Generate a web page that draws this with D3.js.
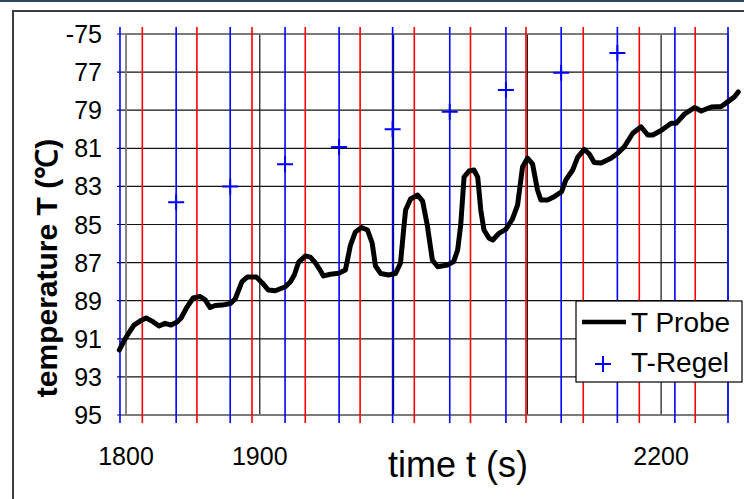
<!DOCTYPE html>
<html>
<head>
<meta charset="utf-8">
<script src="https://cdn.jsdelivr.net/npm/d3@7"></script>
<style>
  html, body { margin: 0; padding: 0; background: #fff; }
  svg { display: block; }
  text { font-family: "Liberation Sans", Arial, sans-serif; fill: #000; }
</style>
</head>
<body>
<div id="chart"></div>
<script>
// T Probe (time s, temperature)
const probeTime = [1795.0, 1799.3, 1803.0, 1806.0, 1810.5, 1815.0, 1820.2, 1824.7, 1829.2, 1833.7,
  1838.2, 1841.2, 1845.7, 1850.2, 1855.4, 1859.2, 1862.9, 1866.7, 1871.9, 1877.9,
  1881.6, 1886.7, 1890.6, 1897.4, 1901.9, 1906.4, 1911.6, 1919.1, 1922.8, 1925.8,
  1929.1, 1934.1, 1937.8, 1941.6, 1944.6, 1947.6, 1952.8, 1959.0, 1964.0, 1967.8,
  1971.5, 1976.0, 1980.5, 1984.0, 1986.5, 1990.3, 1996.3, 2001.5, 2005.2, 2007.5,
  2009.0, 2012.7, 2018.0, 2021.7, 2025.2, 2029.0, 2033.0, 2040.2, 2044.9, 2047.9,
  2050.2, 2052.7, 2056.4, 2060.1, 2062.9, 2065.2, 2067.6, 2071.4, 2074.2, 2078.7,
  2083.9, 2088.9, 2092.7, 2096.4, 2100.1, 2103.9, 2107.6, 2110.1, 2115.1, 2120.1,
  2125.6, 2128.8, 2133.9, 2137.6, 2142.5, 2146.3, 2150.0, 2155.1, 2162.5, 2167.6,
  2172.5, 2178.8, 2185.0, 2190.0, 2193.8, 2200.0, 2207.5, 2211.2, 2217.5, 2225.0,
  2230.0, 2237.5, 2245.0, 2250.0, 2254.9, 2257.7];
const probeTemp = [91.59, 91.01, 90.59, 90.28, 90.07, 89.91, 90.10, 90.33, 90.19, 90.28,
  90.12, 89.91, 89.32, 88.86, 88.78, 88.96, 89.36, 89.25, 89.23, 89.15,
  88.91, 88.00, 87.76, 87.76, 88.07, 88.44, 88.48, 88.27, 88.02, 87.65,
  86.97, 86.65, 86.71, 87.02, 87.34, 87.70, 87.61, 87.56, 87.39, 86.08,
  85.39, 85.16, 85.29, 85.97, 87.18, 87.57, 87.65, 87.57, 87.02, 85.29,
  84.24, 83.66, 83.45, 83.77, 85.03, 86.86, 87.22, 87.13, 86.95, 86.34,
  85.03, 82.51, 82.19, 82.14, 82.51, 84.24, 85.29, 85.72, 85.81, 85.47,
  85.26, 84.71, 83.98, 81.98, 81.52, 81.82, 83.19, 83.71, 83.71, 83.54,
  83.28, 82.66, 82.14, 81.48, 81.06, 81.30, 81.75, 81.77, 81.52, 81.26,
  80.92, 80.21, 79.87, 80.30, 80.30, 80.07, 79.69, 79.69, 79.20, 78.86,
  79.04, 78.83, 78.81, 78.55, 78.29, 78.04];

// T-Regel markers
const regelTime = [1837.5, 1877.9, 1918.9, 1959.3, 1999.3, 2042.0, 2084.0, 2125.3, 2167.3];
const regelTemp = [83.83, 83.0, 81.84, 80.93, 80.0, 79.08, 77.94, 77.03, 76.0];

// vertical marker lines
const blueTimes = [1795.5, 1837.5, 1877.9, 1918.9, 1959.3, 1999.3, 2042, 2084, 2125.3, 2167.3, 2210.3, 2250];
const redTimes = [1812.2, 1853, 1894.2, 1934, 1975, 2015.5, 2057.5, 2099, 2141.8, 2183.7, 2225.5];

// axes
const yTicks = [75, 77, 79, 81, 83, 85, 87, 89, 91, 93, 95];
const yTickLabels = ["-75", "77", "79", "81", "83", "85", "87", "89", "91", "93", "95"];
const xGrid = [1900, 2000, 2100, 2200];
const xTicks = [1800, 1900, 2200];
const xTickLabels = ["1800", "1900", "2200"];

const W = 744, H = 499;
const plot = { left: 126, top: 34, right: 728, bottom: 415 };

const svg = d3.select("#chart").append("svg")
  .attr("width", W).attr("height", H);

svg.append("rect").attr("width", W).attr("height", H).attr("fill", "#fff");
// top strip + outer chart frame
svg.append("rect").attr("x", 0).attr("y", 0).attr("width", W).attr("height", 2).attr("fill", "#2b4562");
svg.append("rect").attr("x", 13).attr("y", 11).attr("width", 900).attr("height", 700)
  .attr("fill", "none").attr("stroke", "#3c3c3c").attr("stroke-width", 2);

const x = d3.scaleLinear().domain([1800, 2250]).range([plot.left, plot.right]);
const y = d3.scaleLinear().domain([75, 95]).range([plot.top, plot.bottom]);

// horizontal grid + y ticks
svg.append("g").selectAll("line").data(yTicks).join("line")
  .attr("x1", plot.left - 9).attr("x2", plot.right)
  .attr("y1", d => y(d)).attr("y2", d => y(d))
  .attr("stroke", "#111").attr("stroke-width", 1.2);

// vertical grid
svg.append("g").selectAll("line").data(xGrid).join("line")
  .attr("x1", d => x(d)).attr("x2", d => x(d))
  .attr("y1", plot.top).attr("y2", plot.bottom)
  .attr("stroke", "#111").attr("stroke-width", 1.2);

// plot border
svg.append("rect")
  .attr("x", plot.left).attr("y", plot.top)
  .attr("width", plot.right - plot.left).attr("height", plot.bottom - plot.top)
  .attr("fill", "none").attr("stroke", "#7a7a7a").attr("stroke-width", 1.8);

// blue / red vertical lines
svg.append("g").selectAll("line").data(blueTimes).join("line")
  .attr("x1", d => x(d)).attr("x2", d => x(d))
  .attr("y1", plot.top - 7).attr("y2", plot.bottom + 8)
  .attr("stroke", "#0000ff").attr("stroke-width", 1.6);
svg.append("g").selectAll("line").data(redTimes).join("line")
  .attr("x1", d => x(d)).attr("x2", d => x(d))
  .attr("y1", plot.top - 7).attr("y2", plot.bottom + 8)
  .attr("stroke", "#ff0000").attr("stroke-width", 1.6);

// T-Regel "+" markers
const mk = svg.append("g");
regelTime.forEach((t, i) => {
  const px = x(t), py = y(regelTemp[i]);
  mk.append("path").attr("d", `M${px - 8},${py}H${px + 8}M${px},${py - 8}V${py + 8}`)
    .attr("stroke", "#0000ff").attr("stroke-width", 2).attr("fill", "none");
});

// T Probe curve
const probe = probeTime.map((t, i) => [t, probeTemp[i]]);
svg.append("path").datum(probe)
  .attr("d", d3.line().x(d => x(d[0])).y(d => y(d[1])))
  .attr("fill", "none").attr("stroke", "#000").attr("stroke-width", 5)
  .attr("stroke-linejoin", "round").attr("stroke-linecap", "round");

// y tick labels
svg.append("g").selectAll("text").data(yTicks).join("text")
  .attr("x", 102).attr("y", d => y(d) + 9)
  .attr("text-anchor", "end").style("font-size", "25px")
  .text((d, i) => yTickLabels[i]);

// x tick labels
svg.append("g").selectAll("text").data(xTicks).join("text")
  .attr("x", d => x(d)).attr("y", 465)
  .attr("text-anchor", "middle").style("font-size", "25px")
  .text((d, i) => xTickLabels[i]);

// axis titles
svg.append("text")
  .attr("transform", "translate(57,268) rotate(-90)")
  .attr("text-anchor", "middle")
  .style("font-size", "30px").style("font-weight", "700")
  .text("temperature T (℃)");

svg.append("text")
  .attr("x", 458).attr("y", 477)
  .attr("text-anchor", "middle").style("font-size", "36px")
  .text("time t (s)");

// legend
const lg = svg.append("g");
lg.append("rect").attr("x", 576).attr("y", 301).attr("width", 166).attr("height", 81)
  .attr("fill", "#fff").attr("stroke", "#000").attr("stroke-width", 1.2);
lg.append("line").attr("x1", 582).attr("x2", 626).attr("y1", 322).attr("y2", 322)
  .attr("stroke", "#000").attr("stroke-width", 4.5);
lg.append("text").attr("x", 631).attr("y", 332).style("font-size", "28px").text("T Probe");
lg.append("path").attr("d", "M595,364H611M603,356V372")
  .attr("stroke", "#0000ff").attr("stroke-width", 2);
lg.append("text").attr("x", 631).attr("y", 372).style("font-size", "28px").text("T-Regel");
</script>
</body>
</html>
